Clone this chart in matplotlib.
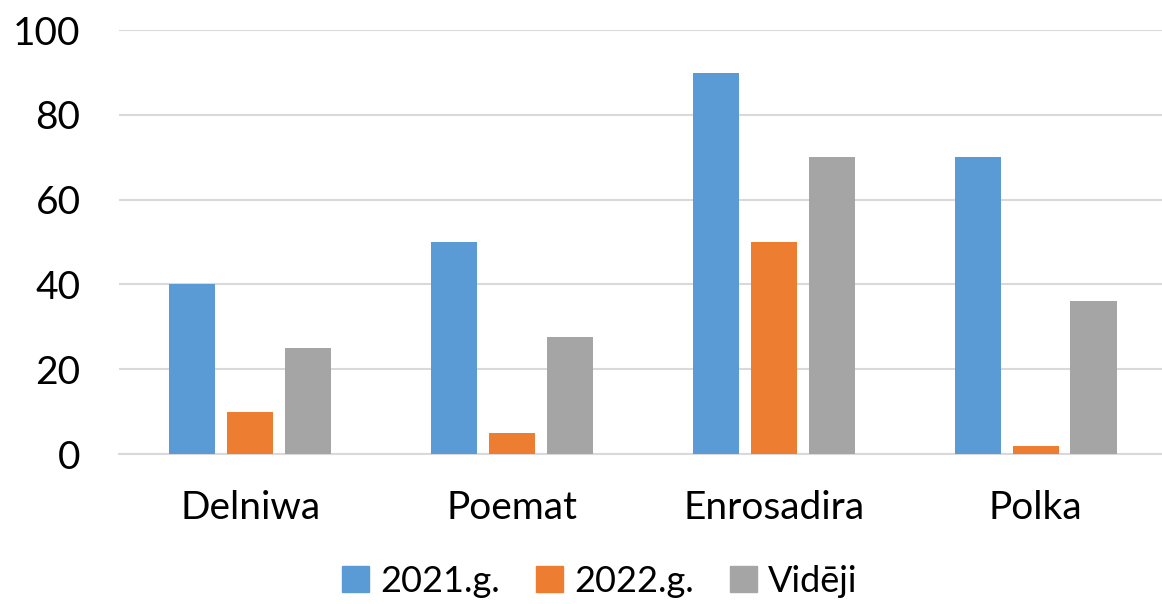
import numpy as np
import matplotlib
matplotlib.use('agg')
import matplotlib.pyplot as plt
from matplotlib.patches import Patch

categories = ['Delniwa', 'Poemat', 'Enrosadira', 'Polka']
series_names = ['2021.g.', '2022.g.', 'Vidēji']
values_2021 = [40, 50, 90, 70]
values_2022 = [10, 5, 50, 2]
values_avg = [25, 27.5, 70, 36]
colors = ['#5B9BD5', '#ED7D31', '#A5A5A5']

plt.rcParams['font.family'] = ['Lato', 'DejaVu Sans']

fig = plt.figure(figsize=(11.62, 6.04), dpi=100)
ax = fig.add_axes([0.1028, 0.2483, 0.901, 0.7017])

x = np.arange(len(categories))
width = 0.176
step = 0.2215
for i, (vals, col) in enumerate(zip([values_2021, values_2022, values_avg], colors)):
    ax.bar(x + (i - 1) * step, vals, width, color=col, zorder=3)

ax.set_xlim(-0.5, len(categories) - 0.5)
ax.set_ylim(0, 100)
ax.set_yticks(range(0, 101, 20))
ax.set_xticks(x)
ax.set_xticklabels(categories)
ax.grid(axis='y', color='#d9d9d9', linewidth=1.5, zorder=0)
for s in ['top', 'right', 'left']:
    ax.spines[s].set_visible(False)
ax.spines['bottom'].set_color('#d9d9d9')
ax.spines['bottom'].set_linewidth(1.5)
ax.tick_params(axis='both', length=0, labelsize=28, colors='black')
ax.tick_params(axis='y', pad=28)
ax.tick_params(axis='x', pad=26)

handles = [Patch(color=c, label=n) for c, n in zip(colors, series_names)]
fig.legend(handles=handles, loc='center', bbox_to_anchor=(0.516, 0.038), ncol=3,
           frameon=False, fontsize=26, handlelength=0.75, handleheight=0.75,
           handletextpad=0.3, columnspacing=1.0)

fig.savefig('out.png', dpi=100)
